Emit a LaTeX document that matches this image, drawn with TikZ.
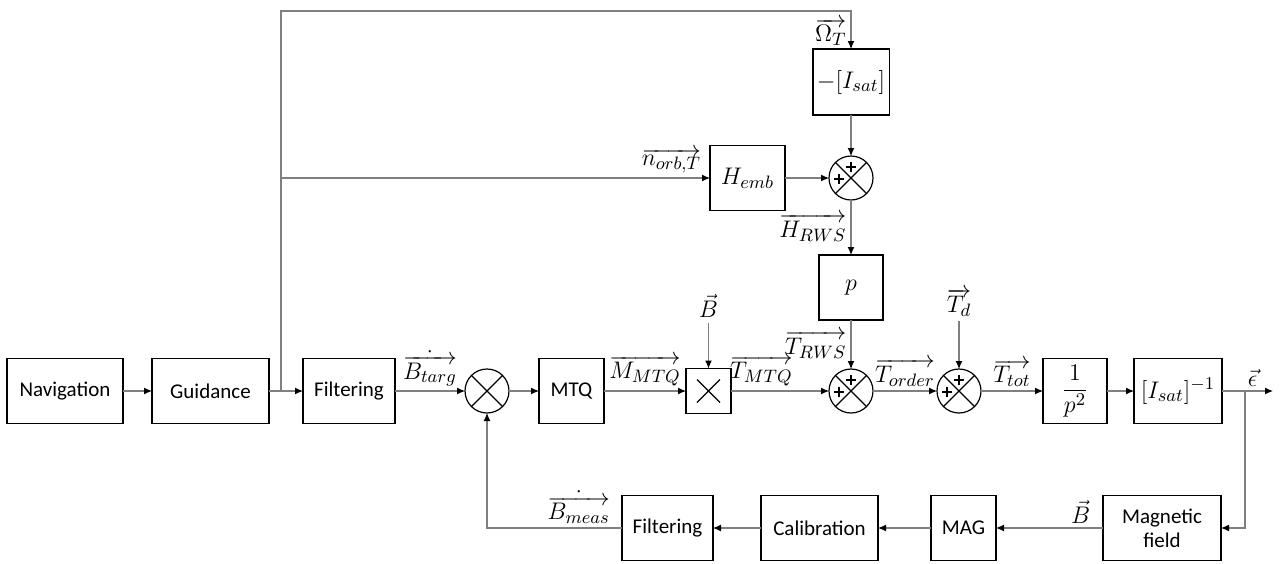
\documentclass[tikz,border=0pt]{standalone}
\usepackage{fontspec}
\setmainfont{Carlito}
\usetikzlibrary{arrows.meta, positioning, calc}
\DeclareMathSizes{12.5}{12.5}{9.5}{7}

\begin{document}
\begin{tikzpicture}[
    x=0.5pt, y=-0.5pt,
    font=\fontsize{10.5}{12}\selectfont,
    block/.style={rectangle, draw=black, line width=0.6pt, outer sep=0pt, inner sep=2pt, minimum width=32.5pt, minimum height=32.5pt, align=center},
    sum/.style={circle, draw=black, line width=0.6pt, outer sep=0pt, inner sep=0pt, minimum size=22pt,
        path picture={\draw[line width=0.6pt] (path picture bounding box.north west) -- (path picture bounding box.south east)
            (path picture bounding box.north east) -- (path picture bounding box.south west);}},
    sumpp/.style={circle, draw=black, line width=0.6pt, outer sep=0pt, inner sep=0pt, minimum size=22pt,
        path picture={\draw[line width=0.6pt] (path picture bounding box.north west) -- (path picture bounding box.south east)
            (path picture bounding box.north east) -- (path picture bounding box.south west);
            \draw[line width=0.7pt] ([shift={(-2.3pt,5.5pt)}]path picture bounding box.center) -- ++(4.6pt,0)
                ([shift={(0,7.8pt)}]path picture bounding box.center) -- ++(0,-4.6pt)
                ([shift={(-8.3pt,-0.5pt)}]path picture bounding box.center) -- ++(4.6pt,0)
                ([shift={(-6pt,1.8pt)}]path picture bounding box.center) -- ++(0,-4.6pt);}},
    mult/.style={rectangle, draw=black, line width=0.6pt, outer sep=0pt, minimum size=22.5pt,
        path picture={\draw[line width=0.6pt] ([shift={(-5.75pt,-5.75pt)}]path picture bounding box.center) -- ([shift={(5.75pt,5.75pt)}]path picture bounding box.center)
            ([shift={(-5.75pt,5.75pt)}]path picture bounding box.center) -- ([shift={(5.75pt,-5.75pt)}]path picture bounding box.center);}},
    lbl/.style={font=\fontsize{12.5}{14}\selectfont, inner sep=2pt},
    arrow/.style={-{Latex[length=4pt, width=3.5pt, color=black]}, draw=black!50, line width=0.6pt},
    line/.style={draw=black!50, line width=0.6pt}
]
    \useasboundingbox (0,0) rectangle (1280,563);

    % main chain
    \node[block, minimum width=58pt] (nav) at (65,391) {Navigation};
    \node[block, minimum width=58.5pt, right=14.5pt of nav] (guid) {Guidance};
    \node[block, minimum width=46pt, right=17pt of guid] (filtA) {Filtering};
    \node[sum, right=35pt of filtA] (sumA) {};
    \node[block, right=15pt of sumA] (mtq) {MTQ};
    \node[mult, right=41pt of mtq] (cross) {};
    \node[sumpp, right=49pt of cross] (sumB) {};
    \node[sumpp, right=32pt of sumB] (sumC) {};
    \node[block, minimum width=32pt, right=31pt of sumC] (integ) {\fontsize{12.5}{14}\selectfont$\displaystyle\frac{1}{p^{2}}$};
    \node[block, minimum width=44pt, right=13.5pt of integ] (inv) {\fontsize{12.5}{14}\selectfont$[I_{sat}]^{-1}$};

    % wheel branch
    \node[block, minimum width=32pt, above=24.5pt of sumB] (deriv) {\fontsize{12.5}{14}\selectfont$p$};
    \node[sumpp, above=27.5pt of deriv] (sumD) {};
    \node[block, minimum width=38pt, minimum height=33pt, above=20.5pt of sumD] (inertia) {\fontsize{12.5}{14}\selectfont$-[I_{sat}]$};
    \node[block, minimum width=37.5pt, left=22pt of sumD] (hemb) {\fontsize{12.5}{14}\selectfont$H_{emb}$};

    % measurement loop
    \node[block, minimum width=59pt] (magf) at (1162,528) {Magnetic\\field};
    \node[block, left=53.5pt of magf] (mag) {MAG};
    \node[block, minimum width=58.5pt, left=26.5pt of mag] (calib) {Calibration};
    \node[block, minimum width=45.5pt, left=24pt of calib] (filtB) {Filtering};

    \coordinate (br) at ($(guid.east)!0.35!(filtA.west)$);
    \coordinate (topc) at ($(inertia.north)+(0,19pt)$);
    \coordinate (bin) at ($(cross.north)+(0,23pt)$);
    \coordinate (tdin) at ($(sumC.north)+(0,24pt)$);
    \coordinate (out) at ($(inv.east)+(25.5pt,0)$);
    \coordinate (tap) at ($(inv.east)!0.45!(out)$);

    \draw[arrow] (nav) -- (guid);
    \draw[line] (guid) -- (br);
    \draw[arrow] (br) -- (filtA);
    \draw[arrow] (filtA) -- node[lbl, above] (lBtarg) {$\dot{\overrightarrow{B_{targ}}}$} (sumA);
    \draw[arrow] (sumA) -- (mtq);
    \draw[arrow] (mtq) -- node[lbl, above] (lMmtq) {$\overrightarrow{M_{MTQ}}$} (cross);
    \draw[arrow] (bin) node[lbl, above] (lB) {$\vec{B}$} -- (cross);
    \draw[arrow] (cross) -- node[lbl, above, pos=0.31] (lTmtq) {$\overrightarrow{T_{MTQ}}$} (sumB);
    \draw[arrow] (sumB) -- node[lbl, above] (lTorder) {$\overrightarrow{T_{order}}$} (sumC);
    \draw[arrow] (tdin) node[lbl, above] (lTd) {$\overrightarrow{T_{d}}$} -- (sumC);
    \draw[arrow] (sumC) -- node[lbl, above] (lTtot) {$\overrightarrow{T_{tot}}$} (integ);
    \draw[arrow] (integ) -- (inv);
    \draw[arrow] (inv) -- node[lbl, above, pos=0.6] (lEps) {$\vec{\epsilon}$} (out);

    \draw[arrow] (tap) |- (magf);
    \draw[arrow] (magf) -- node[lbl, above, pos=0.21] (lBmag) {$\vec{B}$} (mag);
    \draw[arrow] (mag) -- (calib);
    \draw[arrow] (calib) -- (filtB);
    \draw[arrow] (filtB) -| node[lbl, above, pos=0.16] (lBmeas) {$\dot{\overrightarrow{B_{meas}}}$} (sumA);

    \draw[arrow] (br) |- (topc) -- node[lbl, left, pos=0.55] (lOmega) {$\overrightarrow{\Omega_{T}}$} (inertia);
    \draw[arrow] (br |- hemb) -- node[lbl, above, pos=0.91] (lnorb) {$\overrightarrow{n_{orb,T}}$} (hemb);
    \draw[arrow] (hemb) -- (sumD);
    \draw[arrow] (inertia) -- (sumD);
    \draw[arrow] (sumD) -- node[lbl, left] (lHrws) {$\overrightarrow{H_{RWS}}$} (deriv);
    \draw[arrow] (deriv) -- node[lbl, left] (lTrws) {$\overrightarrow{T_{RWS}}$} (sumB);
\end{tikzpicture}
\end{document}
